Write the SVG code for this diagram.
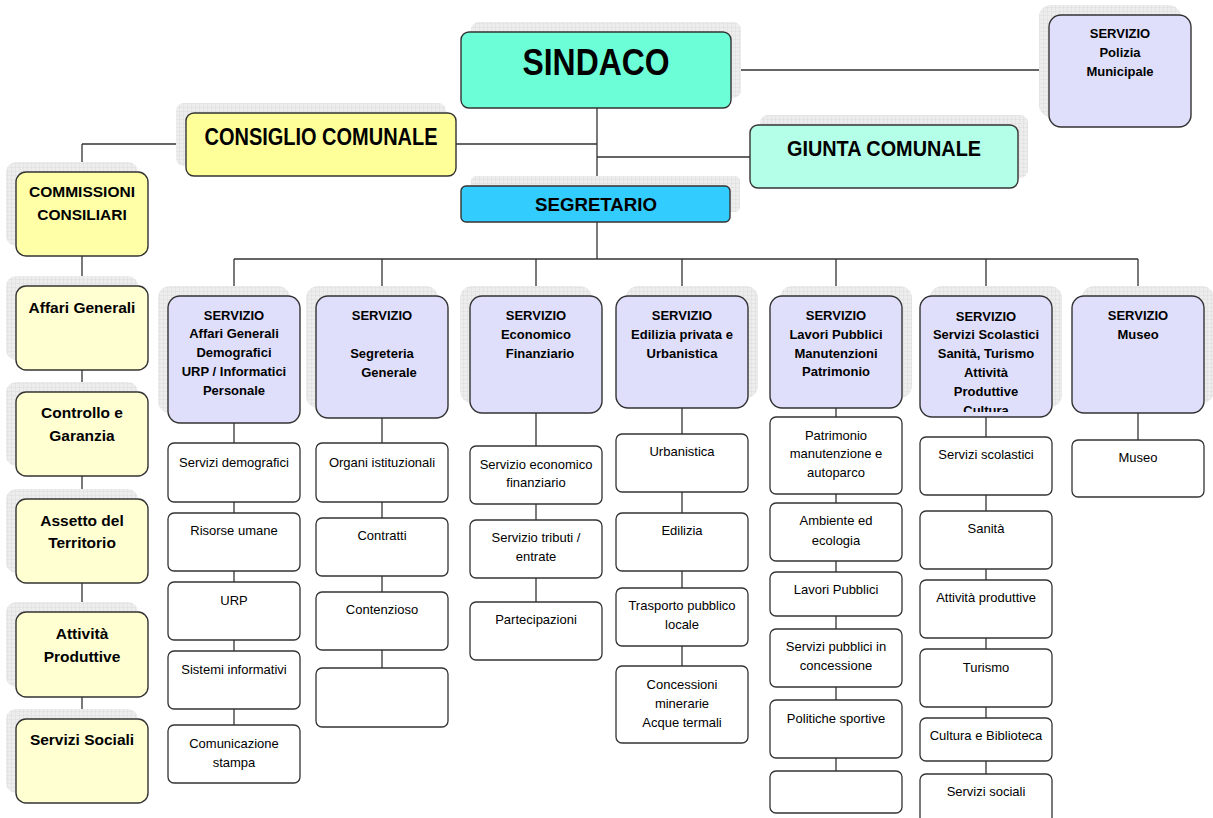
<svg xmlns="http://www.w3.org/2000/svg" width="1213" height="818" viewBox="0 0 1213 818">
<style>
.box{stroke:#333;stroke-width:1.4}
.sh{fill:url(#grid);stroke:none}
.sub{fill:#fff;stroke:#333;stroke-width:1.3}
.hdr{fill:#dfdffc;stroke:#333;stroke-width:1.4}
.lc{fill:#ffffd2;stroke:#333;stroke-width:1.4}
.t{font-family:"Liberation Sans",Arial,sans-serif;text-anchor:middle;fill:#000}
.b{font-weight:bold}
.h{font-size:13px;font-weight:bold}
.r{font-size:13px}
.l{font-size:15.5px;font-weight:bold}
.conn{stroke:#333;stroke-width:1.3;fill:none}
</style>
<defs>
<pattern id="grid" width="4" height="4" patternUnits="userSpaceOnUse">
<rect width="4" height="4" fill="#ededed"/>
<path d="M4 0V4M0 4H4" stroke="#d4d4d4" stroke-width="0.6"/>
</pattern>
<clipPath id="clip6"><rect x="920" y="296" width="132" height="116"/></clipPath>
</defs>

<g id="connectors" class="conn">
<path d="M597 108V186M456 144H597M597 157H750M731 70H1049"/>
<path d="M82 144H186M82 144V802"/>
<path d="M597 222V259M234 259H1138"/>
<path d="M234 259V296M382 259V296M536 259V296M682 259V296M836 259V296M986 259V296M1138 259V296"/>
<path d="M234 423V783"/>
<path d="M382 418V727"/>
<path d="M536 413V660"/>
<path d="M682 408V743"/>
<path d="M836 408V813"/>
<path d="M986 417V818"/>
<path d="M1138 413V440"/>
</g>

<g id="sindaco">
<rect class="sh" x="471" y="22" width="270" height="76" rx="8"/>
<rect class="box" x="461" y="32" width="270" height="76" rx="8" fill="#6cfed6"/>
<text class="t b" x="596" y="75" font-size="36" textLength="147" lengthAdjust="spacingAndGlyphs">SINDACO</text>
</g>

<g id="polizia">
<rect class="sh" x="1039" y="5" width="142" height="112" rx="12"/>
<rect class="hdr" x="1049" y="15" width="142" height="112" rx="12"/>
<text class="t h" x="1120" y="38">SERVIZIO</text>
<text class="t h" x="1120" y="57">Polizia</text>
<text class="t h" x="1120" y="76">Municipale</text>
</g>

<g id="consiglio">
<rect class="sh" x="176" y="103" width="270" height="63" rx="8"/>
<rect class="box" x="186" y="113" width="270" height="63" rx="8" fill="#ffff99"/>
<text class="t b" x="321" y="145" font-size="24" textLength="233" lengthAdjust="spacingAndGlyphs">CONSIGLIO COMUNALE</text>
</g>

<g id="giunta">
<rect class="sh" x="760" y="115" width="268" height="63" rx="8"/>
<rect class="box" x="750" y="125" width="268" height="63" rx="8" fill="#b4ffe8"/>
<text class="t b" x="884" y="156" font-size="22" textLength="194" lengthAdjust="spacingAndGlyphs">GIUNTA COMUNALE</text>
</g>

<g id="segretario">
<rect class="sh" x="471" y="176" width="269" height="36" rx="5"/>
<rect class="box" x="461" y="186" width="269" height="36" rx="5" fill="#33ccff"/>
<text class="t b" x="596" y="211" font-size="18" textLength="122" lengthAdjust="spacingAndGlyphs">SEGRETARIO</text>
</g>

<g id="commissioni">
<rect class="sh" x="6" y="162" width="132" height="84" rx="10"/>
<rect class="box" x="16" y="172" width="132" height="84" rx="10" fill="#ffffa8"/>
<text class="t l" x="82" y="197">COMMISSIONI</text>
<text class="t l" x="82" y="220">CONSILIARI</text>
</g>

<g id="comm-affari">
<rect class="sh" x="6" y="276" width="132" height="84" rx="10"/>
<rect class="lc" x="16" y="286" width="132" height="84" rx="10"/>
<text class="t l" x="82" y="313">Affari Generali</text>
</g>
<g id="comm-controllo">
<rect class="sh" x="6" y="382" width="132" height="84" rx="10"/>
<rect class="lc" x="16" y="392" width="132" height="84" rx="10"/>
<text class="t l" x="82" y="418">Controllo e</text>
<text class="t l" x="82" y="441">Garanzia</text>
</g>
<g id="comm-assetto">
<rect class="sh" x="6" y="489" width="132" height="84" rx="10"/>
<rect class="lc" x="16" y="499" width="132" height="84" rx="10"/>
<text class="t l" x="82" y="526">Assetto del</text>
<text class="t l" x="82" y="548">Territorio</text>
</g>
<g id="comm-attivita">
<rect class="sh" x="6" y="602" width="132" height="85" rx="10"/>
<rect class="lc" x="16" y="612" width="132" height="85" rx="10"/>
<text class="t l" x="82" y="639">Attività</text>
<text class="t l" x="82" y="662">Produttive</text>
</g>
<g id="comm-sociali">
<rect class="sh" x="6" y="709" width="132" height="84" rx="10"/>
<rect class="lc" x="16" y="719" width="132" height="84" rx="10"/>
<text class="t l" x="82" y="745">Servizi Sociali</text>
</g>

<!-- Service headers -->
<g id="srv-affari">
<rect class="sh" x="158" y="286" width="132" height="127" rx="12"/>
<rect class="hdr" x="168" y="296" width="132" height="127" rx="12"/>
<text class="t h" x="234" y="320">SERVIZIO</text>
<text class="t h" x="234" y="338">Affari Generali</text>
<text class="t h" x="234" y="357">Demografici</text>
<text class="t h" x="234" y="376">URP / Informatici</text>
<text class="t h" x="234" y="395">Personale</text>
</g>
<g id="srv-segreteria">
<rect class="sh" x="306" y="286" width="132" height="122" rx="12"/>
<rect class="hdr" x="316" y="296" width="132" height="122" rx="12"/>
<text class="t h" x="382" y="320">SERVIZIO</text>
<text class="t h" x="382" y="358">Segreteria</text>
<text class="t h" x="389" y="377">Generale</text>
</g>
<g id="srv-economico">
<rect class="sh" x="460" y="286" width="132" height="117" rx="12"/>
<rect class="hdr" x="470" y="296" width="132" height="117" rx="12"/>
<text class="t h" x="536" y="320">SERVIZIO</text>
<text class="t h" x="536" y="339">Economico</text>
<text class="t h" x="540" y="358">Finanziario</text>
</g>
<g id="srv-edilizia">
<rect class="sh" x="626" y="286" width="132" height="112" rx="12"/>
<rect class="hdr" x="616" y="296" width="132" height="112" rx="12"/>
<text class="t h" x="682" y="320">SERVIZIO</text>
<text class="t h" x="682" y="339">Edilizia privata e</text>
<text class="t h" x="682" y="358">Urbanistica</text>
</g>
<g id="srv-lavori">
<rect class="sh" x="780" y="286" width="132" height="112" rx="12"/>
<rect class="hdr" x="770" y="296" width="132" height="112" rx="12"/>
<text class="t h" x="836" y="320">SERVIZIO</text>
<text class="t h" x="836" y="339">Lavori Pubblici</text>
<text class="t h" x="836" y="358">Manutenzioni</text>
<text class="t h" x="836" y="376">Patrimonio</text>
</g>
<g id="srv-scolastici">
<rect class="sh" x="930" y="286" width="132" height="121" rx="12"/>
<rect class="hdr" x="920" y="296" width="132" height="121" rx="12"/>
<g clip-path="url(#clip6)">
<text class="t h" x="986" y="321">SERVIZIO</text>
<text class="t h" x="986" y="339">Servizi Scolastici</text>
<text class="t h" x="986" y="358">Sanità, Turismo</text>
<text class="t h" x="986" y="377">Attività</text>
<text class="t h" x="986" y="396">Produttive</text>
<text class="t h" x="986" y="415">Cultura</text>
</g>
</g>
<g id="srv-museo">
<rect class="sh" x="1082" y="286" width="132" height="117" rx="12"/>
<rect class="hdr" x="1072" y="296" width="132" height="117" rx="12"/>
<text class="t h" x="1138" y="320">SERVIZIO</text>
<text class="t h" x="1138" y="339">Museo</text>
</g>

<!-- Column 1 -->
<g id="c1-demografici"><rect class="sub" x="168" y="443" width="132" height="59" rx="6"/><text class="t r" x="234" y="467">Servizi demografici</text></g>
<g id="c1-risorse"><rect class="sub" x="168" y="513" width="132" height="58" rx="6"/><text class="t r" x="234" y="535">Risorse umane</text></g>
<g id="c1-urp"><rect class="sub" x="168" y="582" width="132" height="58" rx="6"/><text class="t r" x="234" y="605">URP</text></g>
<g id="c1-sistemi"><rect class="sub" x="168" y="651" width="132" height="58" rx="6"/><text class="t r" x="234" y="674">Sistemi informativi</text></g>
<g id="c1-comunicazione"><rect class="sub" x="168" y="725" width="132" height="58" rx="6"/><text class="t r" x="234" y="748">Comunicazione</text><text class="t r" x="234" y="767">stampa</text></g>

<!-- Column 2 -->
<g id="c2-organi"><rect class="sub" x="316" y="443" width="132" height="59" rx="6"/><text class="t r" x="382" y="467">Organi istituzionali</text></g>
<g id="c2-contratti"><rect class="sub" x="316" y="518" width="132" height="58" rx="6"/><text class="t r" x="382" y="540">Contratti</text></g>
<g id="c2-contenzioso"><rect class="sub" x="316" y="592" width="132" height="58" rx="6"/><text class="t r" x="382" y="614">Contenzioso</text></g>
<g id="c2-empty"><rect class="sub" x="316" y="668" width="132" height="59" rx="6"/></g>

<!-- Column 3 -->
<g id="c3-economico"><rect class="sub" x="470" y="446" width="132" height="58" rx="6"/><text class="t r" x="536" y="469">Servizio economico</text><text class="t r" x="536" y="487">finanziario</text></g>
<g id="c3-tributi"><rect class="sub" x="470" y="520" width="132" height="58" rx="6"/><text class="t r" x="536" y="542">Servizio tributi /</text><text class="t r" x="536" y="561">entrate</text></g>
<g id="c3-partecipazioni"><rect class="sub" x="470" y="602" width="132" height="58" rx="6"/><text class="t r" x="536" y="624">Partecipazioni</text></g>

<!-- Column 4 -->
<g id="c4-urbanistica"><rect class="sub" x="616" y="434" width="132" height="58" rx="6"/><text class="t r" x="682" y="456">Urbanistica</text></g>
<g id="c4-edilizia"><rect class="sub" x="616" y="513" width="132" height="58" rx="6"/><text class="t r" x="682" y="535">Edilizia</text></g>
<g id="c4-trasporto"><rect class="sub" x="616" y="588" width="132" height="58" rx="6"/><text class="t r" x="682" y="610">Trasporto pubblico</text><text class="t r" x="682" y="629">locale</text></g>
<g id="c4-concessioni"><rect class="sub" x="616" y="666" width="132" height="77" rx="6"/><text class="t r" x="682" y="689">Concessioni</text><text class="t r" x="682" y="708">minerarie</text><text class="t r" x="682" y="727">Acque termali</text></g>

<!-- Column 5 -->
<g id="c5-patrimonio"><rect class="sub" x="770" y="417" width="132" height="77" rx="6"/><text class="t r" x="836" y="440">Patrimonio</text><text class="t r" x="836" y="458">manutenzione e</text><text class="t r" x="836" y="477">autoparco</text></g>
<g id="c5-ambiente"><rect class="sub" x="770" y="503" width="132" height="58" rx="6"/><text class="t r" x="836" y="525">Ambiente ed</text><text class="t r" x="836" y="545">ecologia</text></g>
<g id="c5-lavori"><rect class="sub" x="770" y="572" width="132" height="44" rx="6"/><text class="t r" x="836" y="594">Lavori Pubblici</text></g>
<g id="c5-servizi"><rect class="sub" x="770" y="629" width="132" height="58" rx="6"/><text class="t r" x="836" y="651">Servizi pubblici in</text><text class="t r" x="836" y="670">concessione</text></g>
<g id="c5-politiche"><rect class="sub" x="770" y="700" width="132" height="58" rx="6"/><text class="t r" x="836" y="723">Politiche sportive</text></g>
<g id="c5-empty"><rect class="sub" x="770" y="771" width="132" height="42" rx="6"/></g>

<!-- Column 6 -->
<g id="c6-scolastici"><rect class="sub" x="920" y="437" width="132" height="58" rx="6"/><text class="t r" x="986" y="459">Servizi scolastici</text></g>
<g id="c6-sanita"><rect class="sub" x="920" y="511" width="132" height="58" rx="6"/><text class="t r" x="986" y="533">Sanità</text></g>
<g id="c6-attivita"><rect class="sub" x="920" y="580" width="132" height="58" rx="6"/><text class="t r" x="986" y="602">Attività produttive</text></g>
<g id="c6-turismo"><rect class="sub" x="920" y="649" width="132" height="58" rx="6"/><text class="t r" x="986" y="672">Turismo</text></g>
<g id="c6-cultura"><rect class="sub" x="920" y="718" width="132" height="43" rx="6"/><text class="t r" x="986" y="740">Cultura e Biblioteca</text></g>
<g id="c6-sociali"><rect class="sub" x="920" y="774" width="132" height="60" rx="6"/><text class="t r" x="986" y="796">Servizi sociali</text></g>

<!-- Column 7 -->
<g id="c7-museo"><rect class="sub" x="1072" y="440" width="132" height="57" rx="6"/><text class="t r" x="1138" y="462">Museo</text></g>
</svg>
